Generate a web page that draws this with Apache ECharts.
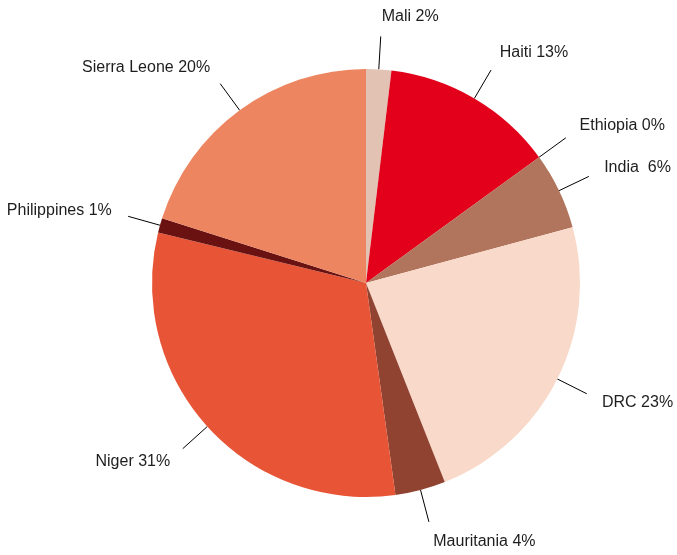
<!DOCTYPE html>
<html>
<head>
<meta charset="utf-8">
<script src="https://cdn.jsdelivr.net/npm/echarts@6/dist/echarts.min.js"></script>
<style>
  html, body { margin: 0; padding: 0; background: #fff; }
  #main { width: 677px; height: 555px; }
</style>
</head>
<body>
<div id="main"></div>
<script>
var names = ['Mali', 'Haiti', 'Ethiopia', 'India', 'DRC', 'Mauritania', 'Niger', 'Philippines', 'Sierra Leone']
var values = [1.9, 13.1, 0, 5.8, 23.2, 3.8, 31.0, 1.1, 20.1]
var labels = ['Mali 2%', 'Haiti 13%', 'Ethiopia 0%', 'India  6%', 'DRC 23%', 'Mauritania 4%', 'Niger 31%', 'Philippines 1%', 'Sierra Leone 20%']
var colors = ['#e2c2b2', '#e2001a', '#e2001a', '#b0755c', '#f9d9c9', '#8f4330', '#e75436', '#6a1212', '#ed8660']

var chart = echarts.init(document.getElementById('main'))

var option = {
  animation: false,
  series: [
    {
      type: 'pie',
      center: [366, 283],
      radius: 214,
      startAngle: 90,
      clockwise: true,
      avoidLabelOverlap: false,
      itemStyle: { borderWidth: 0 },
      label: {
        show: true,
        position: 'outside',
        color: '#1e1e1e',
        fontFamily: 'Liberation Sans, Arial, sans-serif',
        fontSize: 16,
        formatter: function (p) {
          return labels[p.dataIndex]
        }
      },
      labelLine: {
        show: true,
        length: 33,
        length2: 0,
        lineStyle: { color: '#000', width: 1 }
      },
      // text sits a bit further out along the line direction
      labelLayout: function (params) {
        var pts = params.labelLinePoints
        if (!pts) return {}
        var a = pts[0]
        var b = pts[pts.length - 1]
        var dx = b[0] - a[0]
        var dy = b[1] - a[1]
        var len = Math.sqrt(dx * dx + dy * dy) || 1
        return {
          x: b[0] + 17 * dx / len,
          y: b[1] + 20 * dy / len,
          align: dx < 0 ? 'right' : 'left',
          verticalAlign: 'middle',
          labelLinePoints: pts
        }
      },
      data: names.map(function (n, i) {
        return { name: n, value: values[i], itemStyle: { color: colors[i] } }
      })
    }
  ]
}

chart.setOption(option)
</script>
</body>
</html>
